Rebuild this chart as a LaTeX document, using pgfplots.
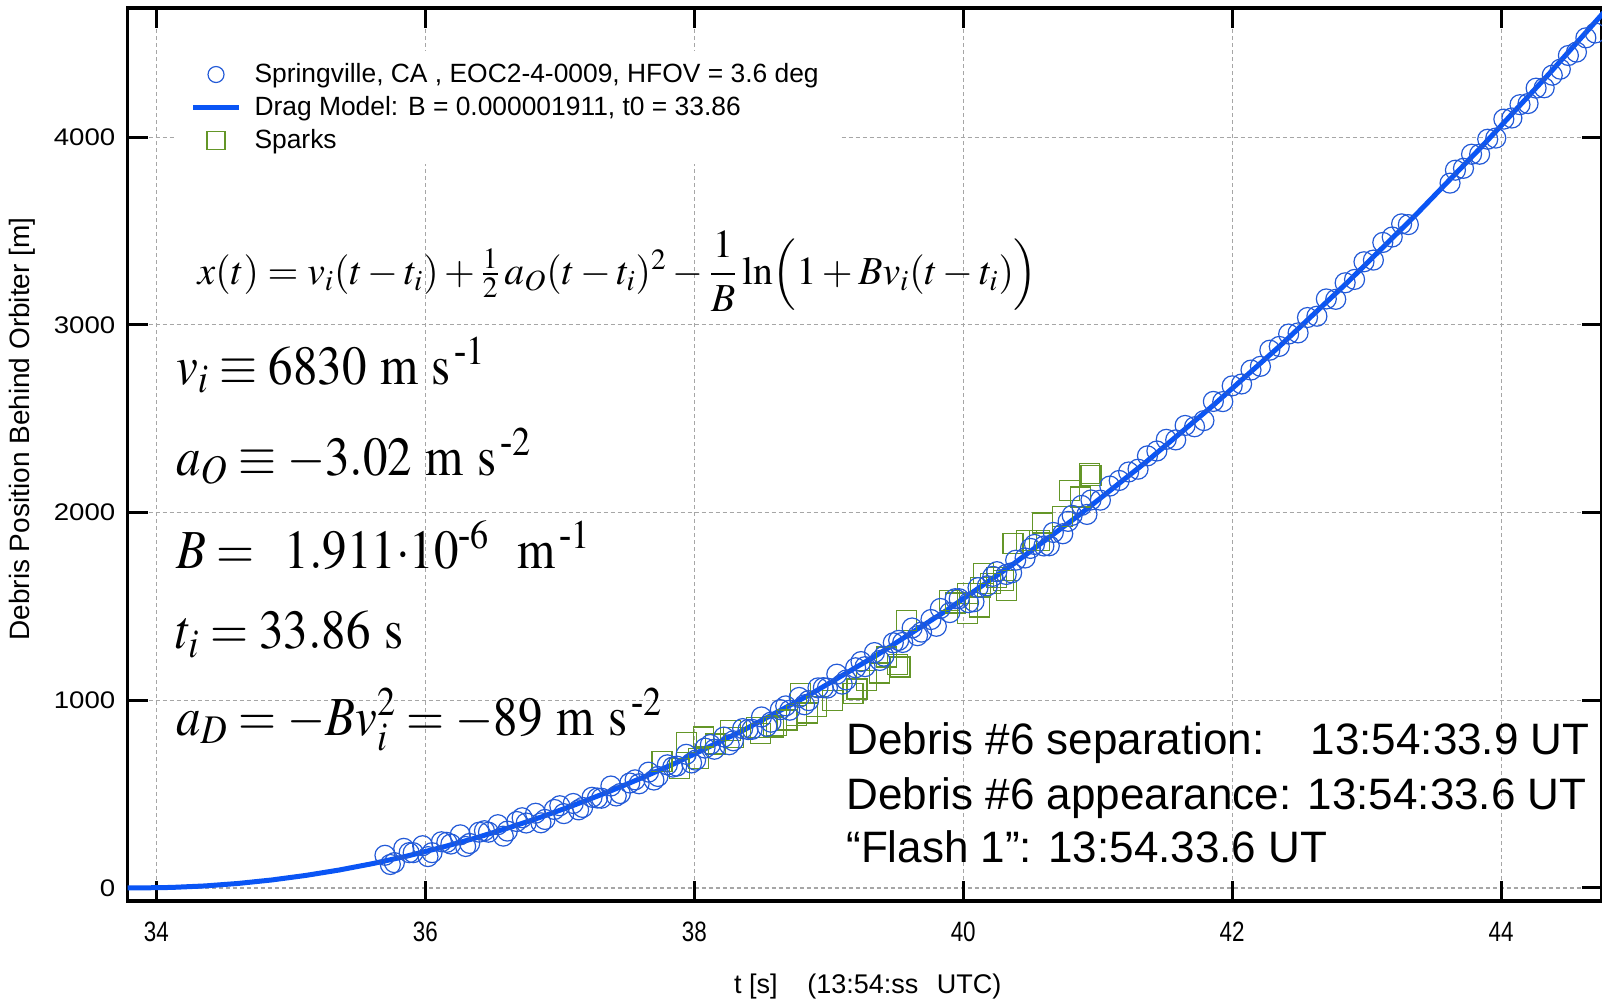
\documentclass[border=0pt]{standalone}
\usepackage{amsmath}
\usepackage{mathptmx}
\usepackage[no-math]{fontspec}
\setmainfont{Liberation Sans}
\newfontfamily\tms{Liberation Serif}
\usepackage{graphicx}
\usepackage{pgfplots}
\pgfplotsset{compat=1.18}
\definecolor{lineblue}{RGB}{10,85,245}
\definecolor{circblue}{RGB}{35,90,215}
\definecolor{sparkgreen}{RGB}{100,150,40}
\newcommand{\hy}{\text{\tms -}}
\newcommand{\bigeq}[1]{\scalebox{0.89}[1]{\fontsize{27.5}{32}\selectfont #1}}
\begin{document}
\begin{tikzpicture}
\begin{axis}[
  scale only axis, width=737.15pt, height=446.45pt,
  xmin=33.787, xmax=44.75, ymin=-70, ymax=4687,
  xtick={34,36,...,44}, ytick={0,1000,...,4000},
  scaled ticks=false,
  /pgf/number format/1000 sep={},
  axis line style={line width=1.75pt},
  major tick length=10pt,
  every tick/.style={black, line width=1.5pt},
  grid=major,
  major grid style={gray!70, line width=0.6pt, dash pattern=on 2pt off 1.5pt},
  xticklabel={\scalebox{0.8}[1]{\pgfmathprintnumber[assume math mode=true]{\tick}}},
  yticklabel={\scalebox{1.15}[1]{\pgfmathprintnumber[assume math mode=true]{\tick}}},
  xticklabel style={font=\fontsize{14}{14}\selectfont, anchor=center, yshift=-15.5pt},
  yticklabel style={font=\fontsize{12}{12}\selectfont, anchor=east, xshift=-2.7pt},
  ylabel={Debris Position Behind Orbiter [m]},
  ylabel style={font=\fontsize{14}{14}\selectfont, at={(axis description cs:-0.0714,0.5287)}, anchor=center},
  xlabel={t [s]\hspace{1.1em}(13:54:ss\hspace{0.68em}UTC)},
  xlabel style={font=\fontsize{13.5}{14}\selectfont, at={(axis description cs:0.502,-0.0952)}, anchor=center},
  legend image code/.code={\draw[mark repeat=2,mark phase=2,#1] plot coordinates {(0pt,0pt) (11.5pt,0pt) (23pt,0pt)};},
  legend style={at={(0.0315,0.952)}, anchor=north west, draw=none, fill=white,
    font=\fontsize{13.2}{15.5}\selectfont, row sep=1.5pt, column sep=4.5pt, inner xsep=8pt, inner ysep=4pt, cells={anchor=west}},
]
\addplot[only marks, mark=square, mark size=5pt, mark options={draw=sparkgreen, line width=0.6pt}, forget plot] table {
t y
37.76 675
37.89 637
37.94 773
38.03 691
38.07 804
38.16 767
38.27 840
38.29 800
38.46 854
38.49 823
38.59 858
38.61 865
38.69 895
38.76 920
38.79 1038
38.84 932
38.91 965
39.03 1000
39.18 1038
39.21 1060
39.28 1107
39.38 1145
39.43 1230
39.51 1192
39.53 1177
39.58 1427
39.90 1533
39.94 1518
40.03 1463
40.03 1570
40.12 1497
40.13 1600
40.15 1677
40.20 1623
40.25 1654
40.30 1640
40.32 1586
40.37 1837
40.47 1853
40.57 1853
40.59 1944
40.74 1981
40.79 2118
40.87 2083
40.94 2210
40.95 2198
};
\addplot[only marks, mark=o, mark size=5pt, mark options={draw=circblue, line width=0.6pt}, forget plot] table {
t y
35.70 174
35.74 125
35.77 135
35.84 211
35.88 188
35.91 188
35.98 225
36.02 167
36.05 188
36.12 246
36.16 243
36.19 234
36.26 283
36.30 221
36.33 237
36.40 297
36.44 305
36.47 297
36.54 337
36.58 276
36.61 303
36.68 354
36.72 374
36.75 346
36.82 398
36.86 347
36.89 365
36.96 418
37.00 438
37.03 396
37.10 450
37.14 416
37.17 429
37.24 483
37.28 479
37.31 478
37.38 543
37.42 490
37.45 503
37.52 559
37.56 576
37.59 555
37.66 617
37.70 575
37.73 594
37.80 656
37.84 644
37.87 649
37.94 712
37.98 666
38.01 681
38.08 745
38.12 764
38.15 739
38.22 804
38.26 763
38.29 784
38.36 849
38.40 844
38.43 845
38.50 911
38.54 861
38.57 883
38.64 950
38.68 970
38.71 947
38.78 1015
38.82 976
38.85 998
38.92 1066
38.96 1067
38.99 1065
39.06 1139
39.10 1086
39.13 1108
39.20 1173
39.24 1206
39.27 1179
39.34 1254
39.38 1212
39.41 1235
39.48 1306
39.52 1319
39.55 1308
39.62 1385
39.66 1344
39.69 1363
39.76 1430
39.80 1394
39.83 1489
39.90 1467
39.94 1541
39.97 1541
40.04 1520
40.08 1525
40.11 1600
40.18 1610
40.22 1660
40.25 1685
40.32 1670
40.36 1679
40.39 1746
40.46 1758
40.50 1809
40.53 1830
40.60 1822
40.64 1823
40.67 1894
40.74 1887
40.78 1953
40.81 1985
40.88 2038
40.92 1990
40.95 2067
41.02 2066
41.09 2141
41.16 2171
41.23 2216
41.30 2231
41.37 2302
41.44 2328
41.51 2390
41.58 2387
41.65 2464
41.72 2457
41.79 2490
41.86 2592
41.93 2591
42.00 2675
42.07 2685
42.14 2759
42.21 2779
42.28 2865
42.35 2885
42.42 2951
42.49 2957
42.56 3039
42.63 3046
42.70 3138
42.77 3136
42.84 3224
42.91 3242
42.98 3336
43.05 3345
43.12 3439
43.19 3468
43.26 3538
43.31 3534
43.62 3755
43.66 3824
43.72 3834
43.78 3909
43.84 3909
43.90 3989
43.96 3995
44.02 4096
44.08 4102
44.14 4173
44.20 4179
44.26 4261
44.32 4263
44.38 4330
44.44 4362
44.50 4435
44.56 4453
44.63 4529
44.70 4555
};
\addplot[lineblue, line width=2.5pt, forget plot] table {
t y
33.78 0
33.86 0
34.11 2.7
34.36 10.7
34.61 24.1
34.86 42.7
35.11 66.6
35.36 95.6
35.61 129.9
35.86 169.2
36.11 213.8
36.36 263.2
36.61 318.1
36.86 377.4
37.11 442.4
37.36 511.5
37.61 586.5
37.86 665.1
38.36 838.4
38.86 1030.4
39.36 1241.5
39.86 1471.1
40.36 1719.2
40.86 1985.5
41.36 2269.7
41.86 2571.8
42.36 2891.1
42.86 3228.1
43.36 3582.0
43.86 3952.8
44.36 4340.2
44.76 4662.2
};
\addlegendimage{only marks, mark=o, mark size=4pt, mark options={draw=circblue, line width=0.6pt}}
\addlegendentry{Springville, CA , EOC2-4-0009, HFOV = 3.6 deg}
\addlegendimage{lineblue, line width=2.5pt}
\addlegendentry{Drag Model: B = 0.000001911, t0 = 33.86}
\addlegendimage{only marks, mark=square, mark size=4.5pt, mark options={draw=sparkgreen, line width=0.6pt}}
\addlegendentry{Sparks}

\node[anchor=base west, inner sep=0] at (axis cs:34.304,3217)
  {\resizebox{420pt}{!}{\fontsize{20}{24}\selectfont$x(t) = v_i(t-t_i) + \tfrac{1}{2}\,a_O(t-t_i)^2 - \dfrac{1}{B}\ln\Bigl(1+Bv_i(t-t_i)\Bigr)$}};
\node[anchor=base west, inner sep=0] at (axis cs:34.144,2683)
  {\bigeq{$v_i \equiv 6830\ \mathrm{m\ s}^{\,\hy 1}$}};
\node[anchor=base west, inner sep=0] at (axis cs:34.144,2199)
  {\bigeq{$a_O \equiv -3.02\ \mathrm{m\ s}^{\,\hy 2}$}};
\node[anchor=base west, inner sep=0] at (axis cs:34.144,1704)
  {\bigeq{$B =\ \,1.911{\cdot}10^{\hy 6}\ \ \mathrm{m}^{\,\hy 1}$}};
\node[anchor=base west, inner sep=0] at (axis cs:34.144,1274)
  {\bigeq{$t_i = 33.86\ \mathrm{s}$}};
\node[anchor=base west, inner sep=0] at (axis cs:34.144,811)
  {\bigeq{$a_D = -Bv_i^2 = -89\ \mathrm{m\ s}^{\,\hy 2}$}};

\node[anchor=base west, inner sep=0, font=\fontsize{22}{26}\selectfont] at (axis cs:39.128,713)
  {Debris \#6 separation:\hspace{1.05em}13:54:33.9 UT};
\node[anchor=base west, inner sep=0, font=\fontsize{22}{26}\selectfont] at (axis cs:39.128,420)
  {Debris \#6 appearance: 13:54:33.6 UT};
\node[anchor=base west, inner sep=0, font=\fontsize{22}{26}\selectfont] at (axis cs:39.128,138)
  {“Flash 1”: 13:54.33.6 UT};
\end{axis}
\pgfresetboundingbox
\path[use as bounding box] (-63.85pt,-49.45pt) rectangle (737.15pt,450.55pt);
\end{tikzpicture}
\end{document}
